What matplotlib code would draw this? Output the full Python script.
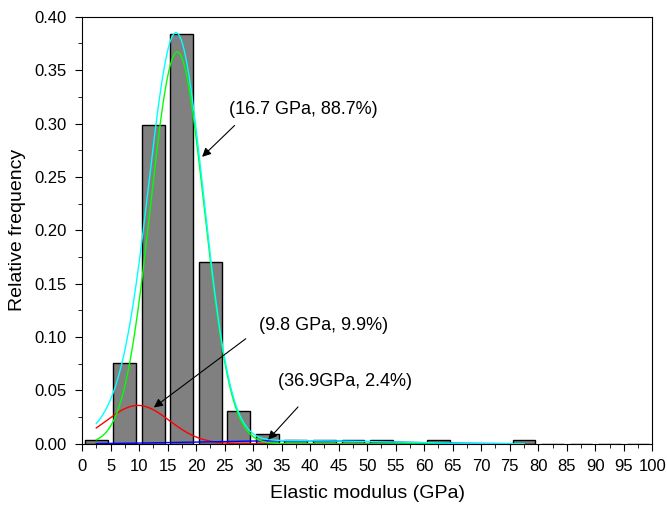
import numpy as np
import matplotlib.pyplot as plt

plt.rcParams['font.family'] = ['Liberation Sans', 'DejaVu Sans']

# histogram data (bin centres in GPa, relative frequency)
centros = np.arange(2.5, 100, 5)
frecuencias = [0.004, 0.076, 0.299, 0.384, 0.170, 0.031, 0.009, 0.004,
               0.004, 0.004, 0.004, 0.0, 0.004, 0.0, 0.0, 0.004,
               0.0, 0.0, 0.0, 0.0]

# gaussian peaks: (centre, amplitude, sigma)
pico_principal = (16.7, 0.367, 4.7)
pico_bajo = (9.8, 0.036, 5.5)
pico_alto = (36.9, 0.003, 16.0)

etiquetas = ['(16.7 GPa, 88.7%)', '(9.8 GPa, 9.9%)', '(36.9GPa, 2.4%)']


def gauss(x, xc, a, s):
    return a * np.exp(-(x - xc)**2 / (2 * s**2))


fig = plt.figure(figsize=(6.67, 5.09), dpi=100)
ax = fig.add_axes([0.123, 0.128, 0.855, 0.839])

ax.bar(centros, frecuencias, width=4, color='#808080', edgecolor='black', linewidth=1)

x = np.linspace(2.5, 77.5, 600)
g1 = gauss(x, *pico_principal)
g2 = gauss(x, *pico_bajo)
g3 = gauss(x, *pico_alto)
ax.plot(x, g2, color='red', lw=1)
ax.plot(x, g3, color='blue', lw=1)
ax.plot(x, g1, color='#00ff00', lw=1)
ax.plot(x, g1 + g2 + g3, color='cyan', lw=1)

flecha = dict(arrowstyle='-|>', color='black', lw=0.8, mutation_scale=13)
ax.annotate('', xy=(20.7, 0.267), xytext=(27.1, 0.300), arrowprops=flecha)
ax.text(25.8, 0.313, etiquetas[0], fontsize=13, va='center')
ax.annotate('', xy=(12.2, 0.0325), xytext=(29.1, 0.100), arrowprops=flecha)
ax.text(31.0, 0.111, etiquetas[1], fontsize=13, va='center')
ax.annotate('', xy=(32.3, 0.002), xytext=(38.2, 0.0365), arrowprops=flecha)
ax.text(34.3, 0.058, etiquetas[2], fontsize=13, va='center')

ax.set_xlim(0, 100)
ax.set_ylim(0, 0.40)
ax.set_xticks(np.arange(0, 101, 5))
ax.set_xticks(np.arange(2.5, 100, 5), minor=True)
ax.set_yticks(np.arange(0, 0.401, 0.05))
ax.set_yticks(np.arange(0.025, 0.4, 0.05), minor=True)
ax.set_yticklabels(['%.2f' % v for v in np.arange(0, 0.401, 0.05)])
ax.tick_params(which='both', direction='out', labelsize=12)
ax.tick_params(which='major', length=5, pad=6)
ax.tick_params(which='minor', length=3)
ax.set_xlabel('Elastic modulus (GPa)', fontsize=14, labelpad=8)
ax.set_ylabel('Relative frequency', fontsize=14, labelpad=6)

fig.savefig('out.png', dpi=100)
